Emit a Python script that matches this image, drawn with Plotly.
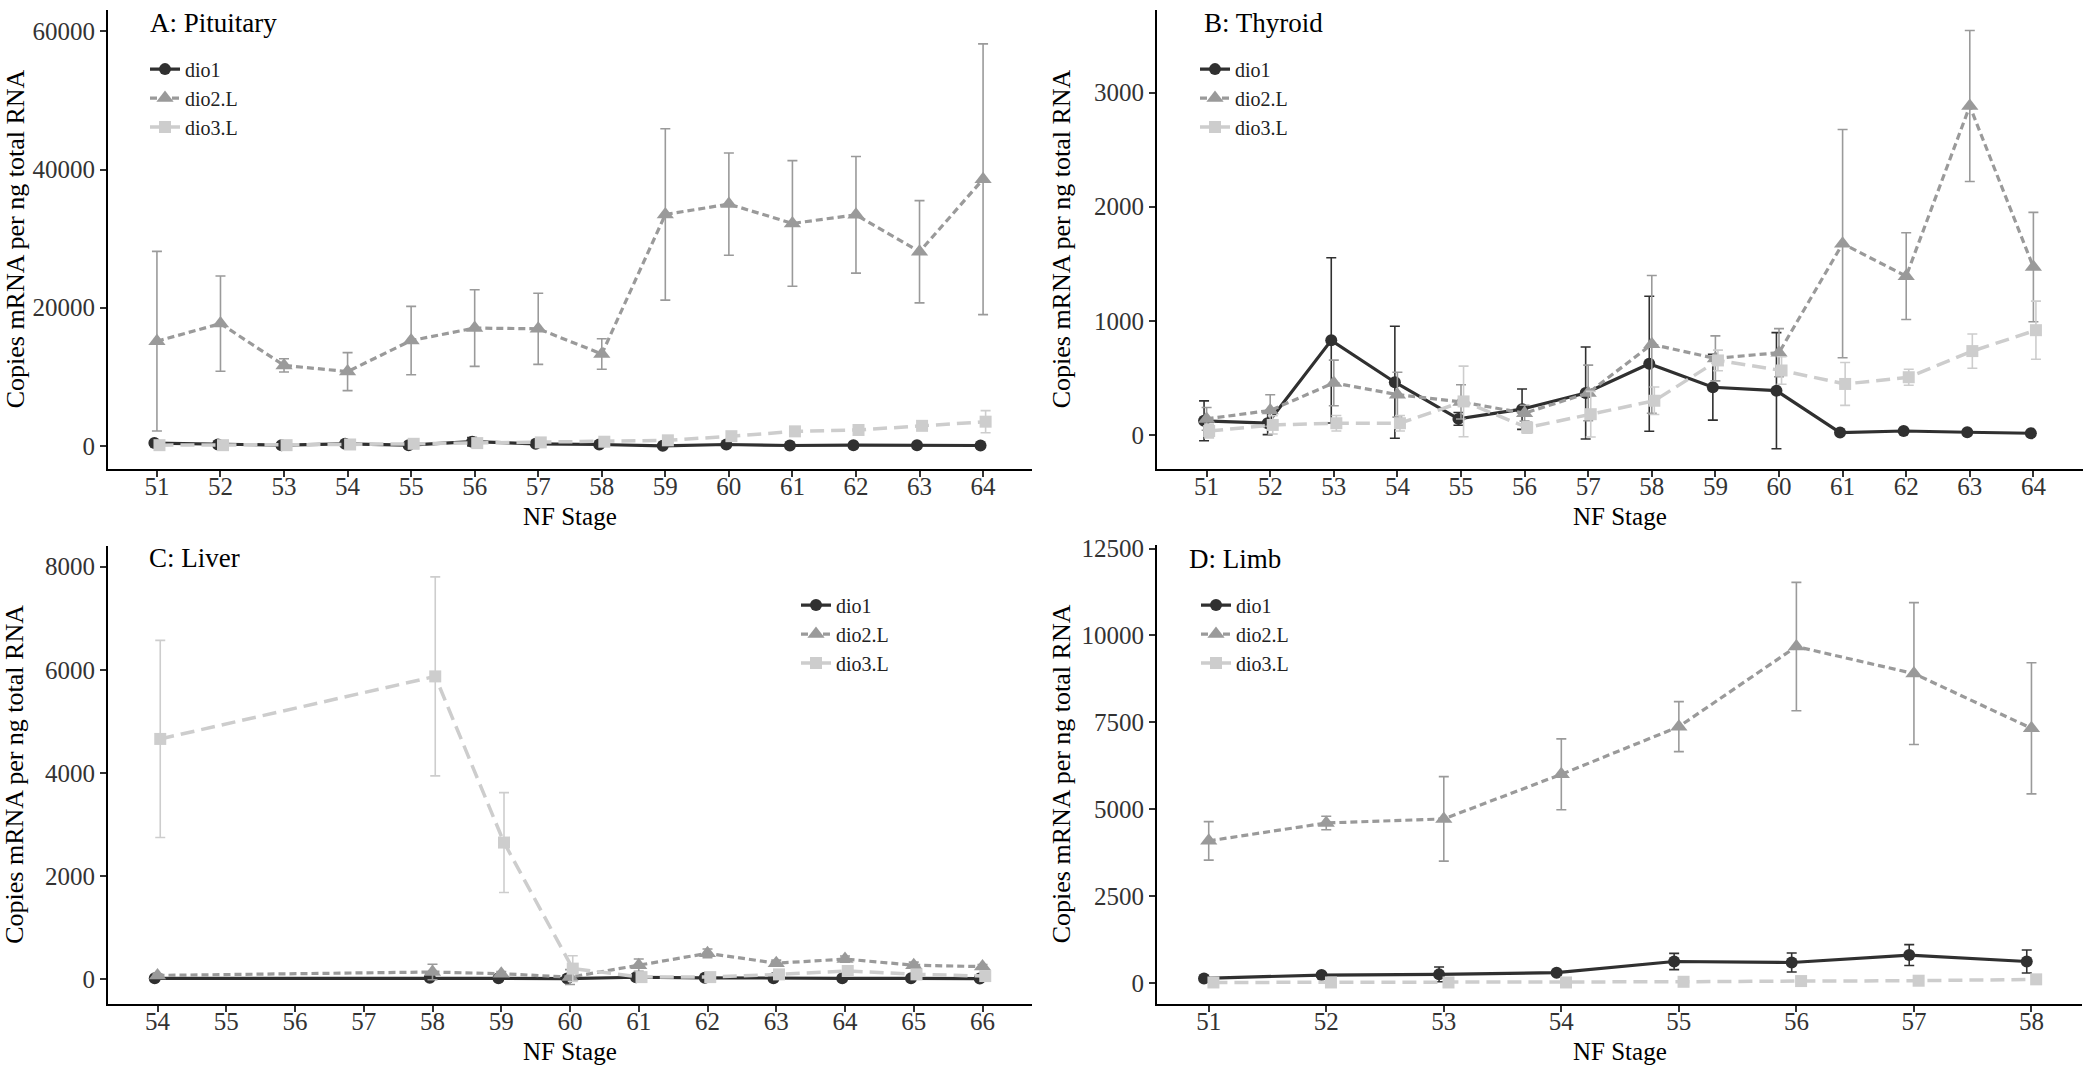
import plotly.graph_objects as go
import numpy as np

# ---------------- data ----------------
# Panel A: Pituitary
stage_A = [51, 52, 53, 54, 55, 56, 57, 58, 59, 60, 61, 62, 63, 64]
A_dio1 = [400, 200, 100, 300, 100, 600, 300, 200, 0, 200, 50, 100, 100, 50]
A_dio1_sd = [300, 150, 100, 200, 100, 600, 200, 150, 50, 100, 50, 50, 50, 50]
A_dio2 = [15150, 17700, 11650, 10750, 15250, 17050, 16950, 13300, 33500, 35000, 32200, 33450, 28100, 38600]
A_dio2_sd = [13000, 6900, 950, 2750, 4950, 5550, 5150, 2200, 12400, 7400, 9100, 8450, 7400, 19600]
A_dio3 = [100, 100, 100, 200, 300, 400, 500, 600, 800, 1400, 2100, 2300, 2900, 3500]
A_dio3_sd = [100, 100, 100, 100, 150, 200, 200, 200, 250, 300, 500, 400, 400, 1600]

# Panel B: Thyroid
stage_B = [51, 52, 53, 54, 55, 56, 57, 58, 59, 60, 61, 62, 63, 64]
B_dio1 = [124, 103, 829, 462, 141, 226, 368, 624, 418, 388, 21, 35, 24, 15]
B_dio1_sd = [175, 100, 724, 491, 56, 177, 403, 591, 288, 509, 10, 10, 10, 8]
B_dio2 = [141, 215, 456, 353, 290, 191, 368, 794, 671, 721, 1676, 1391, 2882, 1471]
B_dio2_sd = [100, 138, 200, 197, 150, 70, 244, 603, 197, 211, 1000, 380, 662, 479]
B_dio3 = [35, 88, 103, 103, 294, 65, 182, 300, 653, 565, 447, 506, 735, 918]
B_dio3_sd = [60, 80, 68, 68, 309, 50, 200, 120, 90, 120, 188, 70, 150, 255]

# Panel C: Liver
stage_C = [54, 58, 59, 60, 61, 62, 63, 64, 65, 66]
C_dio1 = [10, 20, 10, 5, 30, 20, 10, 10, 10, 5]
C_dio1_sd = [10, 10, 10, 5, 10, 10, 10, 10, 10, 5]
C_dio2 = [66, 132, 99, 33, 264, 495, 303, 383, 264, 237]
C_dio2_sd = [30, 150, 40, 145, 120, 85, 60, 60, 60, 40]
C_dio3 = [4657, 5871, 2645, 198, 33, 33, 86, 152, 86, 53]
C_dio3_sd = [1913, 1932, 970, 250, 30, 20, 20, 30, 20, 20]

# Panel D: Limb
stage_D = [51, 52, 53, 54, 55, 56, 57, 58]
D_dio1 = [126, 224, 243, 292, 613, 584, 798, 613]
D_dio1_sd = [50, 60, 214, 60, 233, 272, 301, 331]
D_dio2 = [4086, 4601, 4718, 6002, 7374, 9679, 8901, 7325]
D_dio2_sd = [554, 195, 1216, 1021, 720, 1848, 2043, 1887]
D_dio3 = [10, 10, 10, 10, 30, 50, 60, 100]
D_dio3_sd = [5, 5, 5, 5, 10, 15, 15, 20]

ticks_A = [51, 52, 53, 54, 55, 56, 57, 58, 59, 60, 61, 62, 63, 64]
ticks_B = [51, 52, 53, 54, 55, 56, 57, 58, 59, 60, 61, 62, 63, 64]
ticks_C = [54, 55, 56, 57, 58, 59, 60, 61, 62, 63, 64, 65, 66]
ticks_D = [51, 52, 53, 54, 55, 56, 57, 58]

series_names = ["dio1", "dio2.L", "dio3.L"]
panel_titles = ["A: Pituitary", "B: Thyroid", "C: Liver", "D: Limb"]
x_title = "NF Stage"
y_title = "Copies mRNA per ng total RNA"

# ---------------- styling ----------------
W, H = 2083, 1065
FONT = "Liberation Serif"
styles = {
    "dio1": dict(color="#303030", ecolor="#303030", dash="solid", width=3.2, symbol="circle", size=12, dodge=-0.04),
    "dio2.L": dict(color="#9a9a9a", ecolor="#9a9a9a", dash="7px,4px", width=3.2, symbol="triangle-up", size=15, dodge=0.0),
    "dio3.L": dict(color="#cdcdcd", ecolor="#cdcdcd", dash="14px,7px", width=3.5, symbol="square", size=12, dodge=0.04),
}

def px_x(p):
    return p / W

def px_y(p):
    return 1 - p / H

panels = [
    dict(stage=stage_A, data=[(A_dio1, A_dio1_sd), (A_dio2, A_dio2_sd), (A_dio3, A_dio3_sd)],
         ticks=ticks_A, xr=[50.23, 64.77], yr=[-3300, 63100], dtick=20000,
         xd=[108, 1032], yd=[0, 463], title=(148, 13), leg=(162, 71), ytx=15),
    dict(stage=stage_B, data=[(B_dio1, B_dio1_sd), (B_dio2, B_dio2_sd), (B_dio3, B_dio3_sd)],
         ticks=ticks_B, xr=[50.22, 64.78], yr=[-295, 3723], dtick=1000,
         xd=[1157, 2083], yd=[0, 463], title=(1202, 13), leg=(1212, 71), ytx=1061),
    dict(stage=stage_C, data=[(C_dio1, C_dio1_sd), (C_dio2, C_dio2_sd), (C_dio3, C_dio3_sd)],
         ticks=ticks_C, xr=[53.28, 66.72], yr=[-481, 8404], dtick=2000,
         xd=[108, 1032], yd=[541, 1003], title=(147, 553), leg=(813, 612), ytx=15),
    dict(stage=stage_D, data=[(D_dio1, D_dio1_sd), (D_dio2, D_dio2_sd), (D_dio3, D_dio3_sd)],
         ticks=ticks_D, xr=[50.56, 58.43], yr=[-598, 12605], dtick=2500,
         xd=[1157, 2082], yd=[540, 1003], title=(1187, 554), leg=(1213, 612), ytx=1061),
]

fig = go.Figure()
layout = dict(
    width=W, height=H, margin=dict(l=0, r=0, t=0, b=0),
    paper_bgcolor="white", plot_bgcolor="white",
    font=dict(family=FONT, size=25, color="#333333"),
    annotations=[],
)

for i, p in enumerate(panels):
    n = i + 1
    xa = "x" if n == 1 else f"x{n}"
    ya = "y" if n == 1 else f"y{n}"
    leg = "legend" if n == 1 else f"legend{n}"
    for name, (vals, sds) in zip(series_names, p["data"]):
        st = styles[name]
        fig.add_trace(go.Scatter(
            x=np.array(p["stage"], dtype=float) + st["dodge"], y=vals,
            mode="lines+markers", name=name, xaxis=xa, yaxis=ya, legend=leg,
            line=dict(color=st["color"], width=st["width"], dash=st["dash"]),
            marker=dict(symbol=st["symbol"], size=st["size"], color=st["color"]),
            error_y=dict(type="data", array=sds, visible=True, color=st["ecolor"],
                         thickness=1.6, width=5),
            cliponaxis=False,
        ))
    axis_common = dict(showgrid=False, zeroline=False, showline=True, linecolor="black",
                       linewidth=2, ticks="outside", ticklen=6, tickwidth=1.5, tickcolor="#333333",
                       tickfont=dict(family=FONT, size=25, color="#333333"))
    layout["xaxis" if n == 1 else f"xaxis{n}"] = dict(
        domain=[px_x(p["xd"][0]), px_x(p["xd"][1])], range=p["xr"], anchor=ya,
        tickmode="array", tickvals=p["ticks"], ticktext=[str(t) for t in p["ticks"]],
        ticklabelstandoff=-12, **axis_common)
    layout["yaxis" if n == 1 else f"yaxis{n}"] = dict(
        domain=[px_y(p["yd"][1]), px_y(p["yd"][0])], range=p["yr"], anchor=xa,
        tick0=0, dtick=p["dtick"], tickformat="d", **axis_common)
    layout[leg] = dict(
        x=px_x(p["leg"][0] - 17), y=px_y(p["leg"][1] - 31), xanchor="left", yanchor="top",
        bgcolor="rgba(0,0,0,0)", font=dict(family=FONT, size=20, color="#222222"),
        itemwidth=30, tracegroupgap=0,
    )
    # panel title
    layout["annotations"].append(dict(
        text=panel_titles[i], xref="paper", yref="paper", x=px_x(p["title"][0]),
        y=px_y(p["title"][1]), xanchor="left", yanchor="middle", showarrow=False,
        font=dict(family=FONT, size=27, color="black")))
    # axis titles
    layout["annotations"].append(dict(
        text=x_title, xref="paper", yref="paper",
        x=px_x((p["xd"][0] + p["xd"][1]) / 2), y=px_y(p["yd"][1] + 48),
        xanchor="center", yanchor="middle", showarrow=False,
        font=dict(family=FONT, size=25, color="black")))
    layout["annotations"].append(dict(
        text=y_title, xref="paper", yref="paper", textangle=-90,
        x=px_x(p["ytx"]), y=px_y((p["yd"][0] + p["yd"][1]) / 2),
        xanchor="center", yanchor="middle", showarrow=False,
        font=dict(family=FONT, size=26, color="black")))

fig.update_layout(**layout)
fig.write_html("out.html", config={"displayModeBar": False},
               post_script="document.body.style.margin='0';document.body.style.overflow='hidden';")
